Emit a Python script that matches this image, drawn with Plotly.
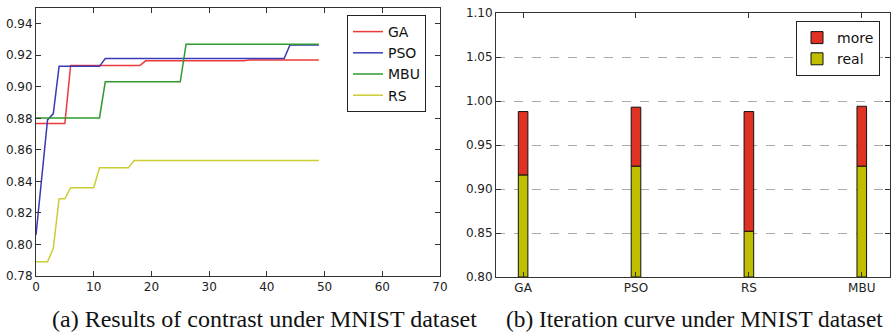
import plotly.graph_objects as go

# ---- Left chart data (step curves: iteration -> accuracy) ----
ga_x = [0, 5, 6, 18, 19, 36, 37, 49]
ga_y = [0.8767, 0.8767, 0.9135, 0.9135, 0.9165, 0.9165, 0.917, 0.917]

pso_x = [0, 2, 3, 4, 11, 12, 43, 44, 49]
pso_y = [0.806, 0.879, 0.883, 0.913, 0.913, 0.918, 0.918, 0.9265, 0.9265]

mbu_x = [0, 11, 12, 25, 26, 49]
mbu_y = [0.8803, 0.8803, 0.9032, 0.9032, 0.927, 0.927]

rs_x = [0, 2, 3, 4, 5, 6, 10, 11, 16, 17, 49]
rs_y = [0.789, 0.789, 0.7976, 0.829, 0.829, 0.836, 0.836, 0.8486, 0.8486, 0.8532, 0.8532]

# ---- Right chart data (stacked bars) ----
methods = ["GA", "PSO", "RS", "MBU"]
real_vals = [0.916, 0.926, 0.852, 0.926]
total_vals = [0.988, 0.993, 0.988, 0.994]
more_vals = [t - r for t, r in zip(total_vals, real_vals)]

left_xticks = [0, 10, 20, 30, 40, 50, 60, 70]
left_yticks = [0.78, 0.80, 0.82, 0.84, 0.86, 0.88, 0.90, 0.92, 0.94]
right_yticks = [0.80, 0.85, 0.90, 0.95, 1.00, 1.05, 1.10]

W, H = 891, 332
def px(xp):
    return xp / W
def py(yp):
    return (H - yp) / H

fig = go.Figure()

line_colors = {"GA": "#ee3a3a", "PSO": "#3a3ab8", "MBU": "#2f9a2f", "RS": "#cccc33"}
for name, xs, ys in [("GA", ga_x, ga_y), ("PSO", pso_x, pso_y),
                     ("MBU", mbu_x, mbu_y), ("RS", rs_x, rs_y)]:
    fig.add_trace(go.Scatter(x=xs, y=ys, mode="lines", name=name,
                             line=dict(color=line_colors[name], width=1.5),
                             xaxis="x", yaxis="y", legend="legend"))

bar_w = 0.085
fig.add_trace(go.Bar(x=list(range(len(methods))), y=[v - 0.8 for v in real_vals], base=0.8,
                     name="real", marker=dict(color="#bfbf00", line=dict(color="#111", width=1)),
                     width=bar_w, xaxis="x2", yaxis="y2", legend="legend2"))
fig.add_trace(go.Bar(x=list(range(len(methods))), y=more_vals, base=real_vals,
                     name="more", marker=dict(color="#e03222", line=dict(color="#111", width=1)),
                     width=bar_w, xaxis="x2", yaxis="y2", legend="legend2"))

tickfont = dict(family="DejaVu Sans", size=12, color="#222")
axis_common = dict(showline=True, linecolor="#333", linewidth=1, mirror="ticks",
                   ticks="inside", ticklen=5, tickcolor="#333", tickfont=tickfont,
                   zeroline=False, automargin=False)

fig.update_layout(
    width=W, height=H,
    margin=dict(l=0, r=0, t=0, b=0),
    paper_bgcolor="white", plot_bgcolor="white",
    barmode="overlay",
    xaxis=dict(domain=[px(36), px(440)], range=[0, 70], tickvals=left_xticks,
               showgrid=False, anchor="y", **axis_common),
    yaxis=dict(domain=[py(276), py(8)], range=[0.78, 0.95], tickvals=left_yticks,
               tickformat=".2f", showgrid=False, anchor="x", **axis_common),
    xaxis2=dict(domain=[px(496), px(890)], range=[-0.24, 3.25],
                tickvals=list(range(len(methods))), ticktext=methods,
                showgrid=False, anchor="y2", **axis_common),
    yaxis2=dict(domain=[py(277), py(13)], range=[0.8, 1.1], tickvals=right_yticks,
                tickformat=".2f", showgrid=True, gridcolor="#aaaaaa", griddash="dash",
                gridwidth=1, anchor="x2", **axis_common),
    legend=dict(x=px(347), y=py(15), xanchor="left", yanchor="top",
                bordercolor="#222", borderwidth=1, bgcolor="white",
                font=dict(family="DejaVu Sans", size=14, color="#111"),
                itemwidth=30, traceorder="normal"),
    legend2=dict(x=px(796), y=py(21), xanchor="left", yanchor="top",
                 bordercolor="#222", borderwidth=1, bgcolor="white",
                 font=dict(family="DejaVu Sans", size=14, color="#111"),
                 itemwidth=30, traceorder="reversed"),
    showlegend=True,
)

fig.add_annotation(text="(a) Results of contrast under MNIST dataset", x=px(50), y=py(319),
                   xref="paper", yref="paper", xanchor="left", yanchor="middle",
                   showarrow=False,
                   font=dict(family="Liberation Serif", size=24, color="#111"))
fig.add_annotation(text="(b) Iteration curve under MNIST dataset", x=px(504), y=py(319),
                   xref="paper", yref="paper", xanchor="left", yanchor="middle",
                   showarrow=False,
                   font=dict(family="Liberation Serif", size=23.3, color="#111"))

fig.write_html("out.html", config={"displayModeBar": False},
               post_script="document.body.style.margin='0';document.body.style.overflow='hidden';")
